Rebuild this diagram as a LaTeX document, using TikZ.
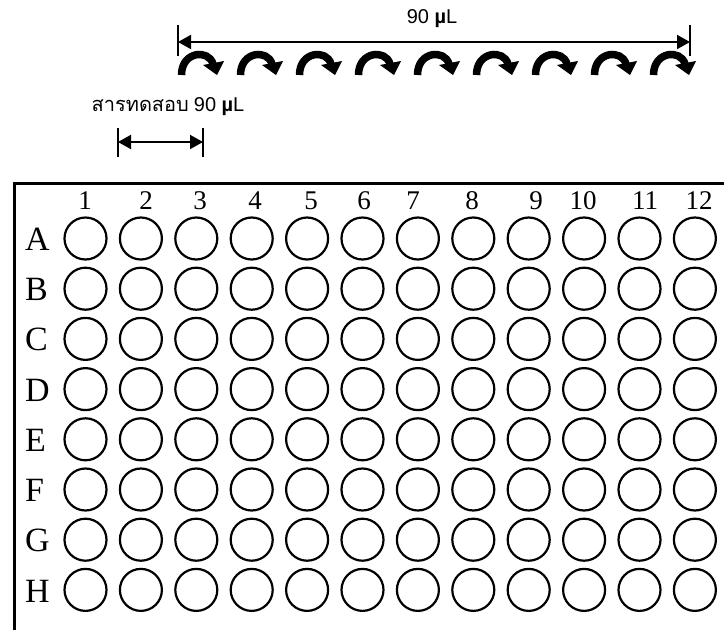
\documentclass[tikz,border=0pt]{standalone}
\usepackage{fontspec}
\setmainfont{Liberation Serif}
\newfontfamily\thaifont[Script=Thai]{Loma}
\newfontfamily\arialfont{Liberation Sans}
\usetikzlibrary{arrows.meta}
\begin{document}
\begin{tikzpicture}[x=1pt,y=-1pt,
  well/.style={draw,circle,line width=2.2pt,minimum size=42pt,inner sep=0pt},
  rowlab/.style={anchor=west,inner sep=0pt,font=\fontsize{34}{34}\selectfont},
  collab/.style={inner sep=0pt,font=\fontsize{27}{27}\selectfont},
  platebar/.style={line width=3pt},
  bar/.style={line width=1.8pt},
  measure/.style={line width=2pt,{Triangle[length=13pt,width=14pt]}-{Triangle[length=13pt,width=14pt]}},
  curlbody/.style={line width=7.5pt},
  curlhead/.style={fill=black},
  lab/.style={inner sep=0pt}]
\useasboundingbox (0,0) rectangle (724,630);
% plate border
\coordinate (ptr) at (724,183);
\coordinate (pbl) at (14,630);
\draw[platebar] (ptr) -| (pbl);
% column labels
\foreach \n/\x in {1/85,2/146,3/200,4/255,5/311,6/364,7/413,8/472,9/536,10/583,11/645,12/699}
  \node[collab] (c\n) at (\x,201) {\n};
% row labels and wells
\foreach \r [count=\j from 0] in {A,B,C,D,E,F,G,H} {
  \node[rowlab] (r\r) at (25,{239.5+50.2*\j}) {\r};
  \foreach \i in {1,...,12}
    \node[well] (w\r\i) at ({85.5+55.4*(\i-1)},{238.5+50.2*\j}) {};
}
% top measurement
\node[lab,font=\arialfont\fontsize{20}{20}\selectfont] (t1) at (432,19) {90 \textbf{µ}L};
\coordinate (ta1) at (178,25); \coordinate (tb1) at (178,56);
\coordinate (ta2) at (690,25); \coordinate (tb2) at (690,56);
\coordinate (tl) at (178,42); \coordinate (tr) at (690,42);
\draw[bar] (ta1) -- (tb1);
\draw[bar] (ta2) -- (tb2);
\draw[measure] (tl) -- (tr);
% curled arrows
\foreach \k in {0,...,8} {
  \pgfmathsetmacro\xo{177+59*\k}
  \coordinate (cs\k) at ({\xo+4.5},75);
  \coordinate (ce\k) at ({\xo+36},64);
  \coordinate (ha\k) at ({\xo+26},65);
  \coordinate (hb\k) at ({\xo+47},61);
  \coordinate (hc\k) at ({\xo+40},75);
  \draw[curlbody] (cs\k) .. controls ({\xo+4.5},51) and ({\xo+32},49) .. (ce\k);
  \fill[curlhead] (ha\k) -- (hb\k) -- (hc\k) -- cycle;
}
% second measurement
\node[lab,font=\fontsize{20}{20}\selectfont] (t2) at (168,107) {{\thaifont สารทดสอบ} {\arialfont 90 \textbf{µ}L}};
\coordinate (sa1) at (118,128); \coordinate (sb1) at (118,157);
\coordinate (sa2) at (203,128); \coordinate (sb2) at (203,157);
\coordinate (sl) at (118,142); \coordinate (sr) at (203,142);
\draw[bar] (sa1) -- (sb1);
\draw[bar] (sa2) -- (sb2);
\draw[measure] (sl) -- (sr);
\end{tikzpicture}
\end{document}
